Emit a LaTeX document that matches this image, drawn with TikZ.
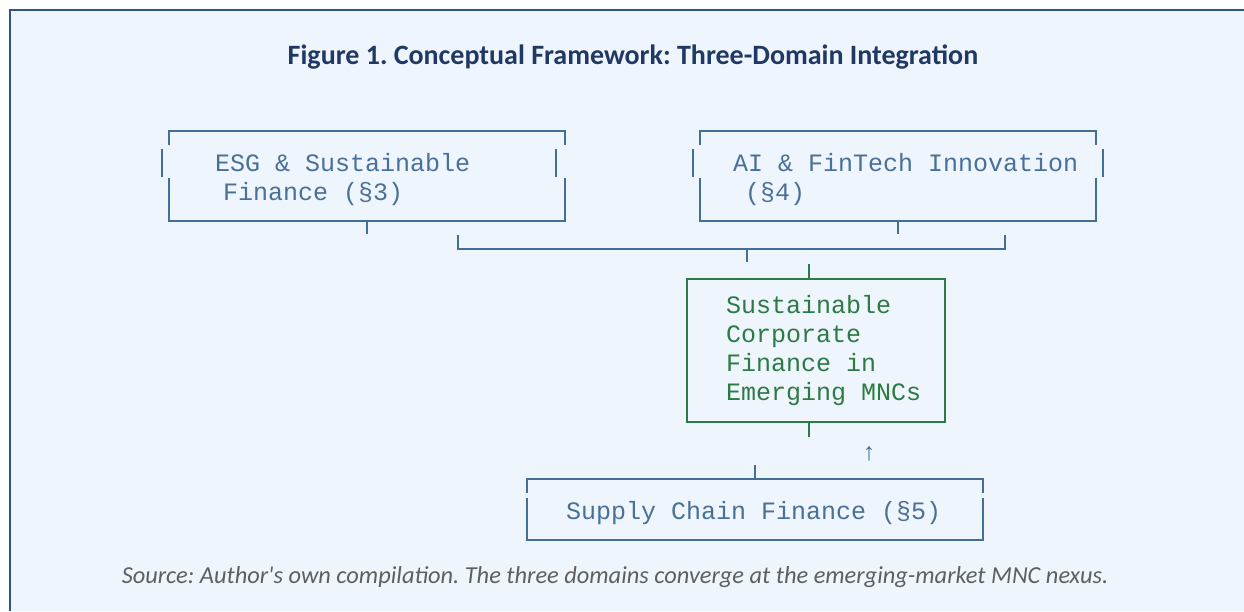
\documentclass[tikz,border=0pt]{standalone}
\usepackage{fontspec}
\setmainfont{Carlito}
\newfontfamily\monofont{Liberation Mono}
\usepackage{xcolor}
\usetikzlibrary{positioning,calc}
\definecolor{panelbg}{RGB}{239,245,252}
\definecolor{framecol}{RGB}{46,86,132}
\definecolor{linkblue}{RGB}{66,110,152}
\definecolor{textblue}{RGB}{72,112,152}
\definecolor{nexusgreen}{RGB}{44,122,68}
\definecolor{titlenavy}{RGB}{31,56,100}
\definecolor{captiongrey}{RGB}{95,95,95}
\newcommand{\boxtext}{\monofont\fontsize{25}{29}\selectfont}
\tikzset{
  % spaces one cell wide, ragged lines would shrink them
  domainbox/.style={text=textblue, anchor=north west,
    align=left, inner ysep=0pt, font=\boxtext,
    execute at begin node={\spaceskip=15pt\relax\xspaceskip=15pt\relax}},
  link/.style={linkblue, line width=2pt},
}
\frenchspacing

\begin{document}
\begin{tikzpicture}[x=1pt,y=-1pt]
% panel
\useasboundingbox (0,0) rectangle (1244,611);
\fill[white] (0,0) rectangle (1244,611);
\fill[panelbg] (10,10) rectangle (1244,611);
\draw[framecol,line width=2pt] (10,611) -- (10,10) -- (1244,10);

\node[font=\bfseries\fontsize{28}{32}\selectfont,text=titlenavy] (title) at (633,57)
  {Figure 1. Conceptual Framework: Three-Domain Integration};

% the three domains
\node[domainbox,inner xsep=46pt,text width=304pt,minimum height=90pt] (esg) at (169,134)
  {ESG \& Sustainable\\\hspace*{8pt}Finance (§3)};
\node[domainbox,inner xsep=33pt,text width=330pt,minimum height=90pt] (ai) at (700,134)
  {\mbox{AI \& FinTech Innovation}\\\hspace*{12pt}(§4)};
\node[domainbox,draw=nexusgreen,line width=2pt,text=nexusgreen,inner xsep=39pt,
  text width=180pt,minimum height=143pt] (nexus) at (686,278)
  {Sustainable\\Corporate\\Finance in\\\mbox{Emerging MNCs}};
\node[domainbox,inner xsep=39pt,text width=378pt,minimum height=61pt] (supply) at (527,482)
  {Supply Chain Finance (§5)};

% outlines, the first text row sits out of line
\draw[link] (169,145) |- (565,131) -- (565,145);
\draw[link] (162,149) -- (162,177) (556,149) -- (556,177);
\draw[link] (169,178) |- (565,221) -- (565,178);
\draw[link] (700,145) |- (1096,131) -- (1096,145);
\draw[link] (693,149) -- (693,177) (1103,149) -- (1103,177);
\draw[link] (700,178) |- (1096,221) -- (1096,178);
\draw[link] (527,493) |- (983,479) -- (983,493);
\draw[link] (527,498) |- (983,540) -- (983,498);

% joining lines
\coordinate (busL) at (458,249);
\coordinate (busR) at (1005,249);
\coordinate (busM) at (747,249);
\draw[link] ([yshift=3pt]esg.south) -- ++(0,13);
\draw[link] ([yshift=3pt]ai.south) -- ++(0,13);
\draw[link] ($(busL)+(0,-14)$) -- (busL) -- (busR) -- ++(0,-14);
\draw[link] (busM) -- ++(0,13);
\draw[nexusgreen,line width=2pt] ([xshift=-7pt]nexus.north) -- ++(0,-14);
\draw[nexusgreen,line width=2pt] ([xshift=-7pt]nexus.south) -- ++(0,14);
\draw[link] ([yshift=3pt]supply.north) -- ++(0,-14);
\node[font=\boxtext,text=textblue] (up) at (869,454) {↑};

\node[font=\itshape\fontsize{24.4}{28}\selectfont,text=captiongrey] (source) at (615,577)
  {Source: Author\textquotesingle s own compilation. The three domains converge at the emerging-market MNC nexus.};
\end{tikzpicture}
\end{document}
